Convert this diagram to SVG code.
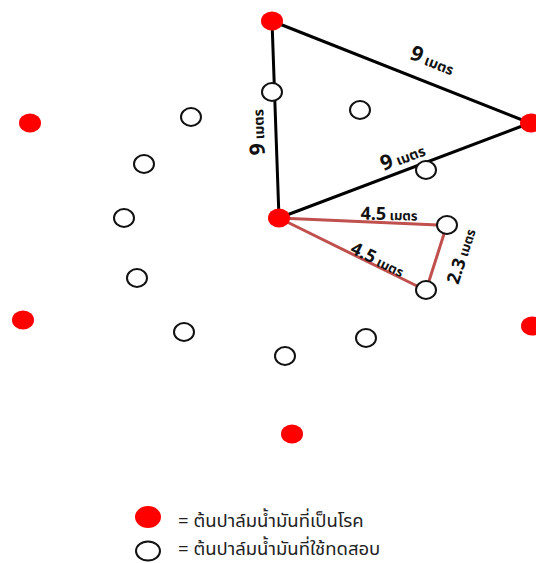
<svg xmlns="http://www.w3.org/2000/svg" width="536" height="563" viewBox="0 0 536 563">
<style>
.red{fill:#ff0000;stroke:none}
.test{fill:#ffffff;stroke:#111111;stroke-width:2}
.bl{stroke:#000000;stroke-width:3;fill:none;stroke-linecap:round}
.rl{stroke:#c0504d;stroke-width:3;fill:none;stroke-linecap:round}
.lbl{font-family:"Noto Sans Thai","Noto Sans","DejaVu Sans",sans-serif;font-weight:bold;fill:#111111}
.num{font-size:21px}
.th{font-size:14px}
.num2{font-size:18px}
.th2{font-size:13px}
.leg{font-family:"Noto Sans Thai","Noto Sans","DejaVu Sans",sans-serif;font-size:18.5px;fill:#222222}
</style>
<rect width="536" height="563" fill="#ffffff"/>
<g id="connectors">
<line class="bl" x1="272" y1="21" x2="530" y2="123"/>
<line class="bl" x1="272" y1="21" x2="279" y2="218"/>
<line class="bl" x1="279" y1="218" x2="530" y2="123"/>
<line class="rl" x1="279" y1="218" x2="438" y2="225"/>
<line class="rl" x1="279" y1="218" x2="417" y2="286"/>
<line class="rl" x1="444" y1="234" x2="429" y2="281"/>
</g>
<g id="labels">
<text class="lbl" text-anchor="middle" transform="translate(430,67) rotate(21.6)"><tspan class="num">9</tspan><tspan class="th"> เมตร</tspan></text>
<text class="lbl" text-anchor="middle" transform="translate(264,132) rotate(-92)"><tspan class="num">9</tspan><tspan class="th"> เมตร</tspan></text>
<text class="lbl" text-anchor="middle" transform="translate(405,163) rotate(-20.7)"><tspan class="num">9</tspan><tspan class="th"> เมตร</tspan></text>
<text class="lbl" text-anchor="middle" transform="translate(389,220) rotate(1)"><tspan class="num2">4.5</tspan><tspan class="th2"> เมตร</tspan></text>
<text class="lbl" text-anchor="middle" transform="translate(375,265) rotate(26)"><tspan class="num2">4.5</tspan><tspan class="th2"> เมตร</tspan></text>
<text class="lbl" text-anchor="middle" transform="translate(467,258) rotate(-72)"><tspan class="num2">2.3</tspan><tspan class="th2"> เมตร</tspan></text>
</g>
<g id="diseased">
<ellipse id="d1" class="red" cx="272" cy="21" rx="11" ry="9.5"/>
<ellipse id="d2" class="red" cx="531" cy="123" rx="11" ry="9.5"/>
<ellipse id="d3" class="red" cx="279" cy="218" rx="11" ry="9.5"/>
<ellipse id="d4" class="red" cx="30" cy="123" rx="11" ry="9.5"/>
<ellipse id="d5" class="red" cx="23" cy="320" rx="11" ry="9.5"/>
<ellipse id="d6" class="red" cx="532" cy="326" rx="11" ry="9.5"/>
<ellipse id="d7" class="red" cx="292" cy="434" rx="11" ry="9.5"/>
</g>
<g id="tested">
<ellipse id="t1" class="test" cx="272" cy="92" rx="10" ry="9"/>
<ellipse id="t2" class="test" cx="360" cy="110" rx="10" ry="9"/>
<ellipse id="t3" class="test" cx="426" cy="170" rx="10" ry="9"/>
<ellipse id="t4" class="test" cx="447" cy="225" rx="10" ry="9"/>
<ellipse id="t5" class="test" cx="426" cy="290" rx="10" ry="9"/>
<ellipse id="t6" class="test" cx="191" cy="117" rx="10" ry="9"/>
<ellipse id="t7" class="test" cx="144" cy="164" rx="10" ry="9"/>
<ellipse id="t8" class="test" cx="124" cy="218" rx="10" ry="9"/>
<ellipse id="t9" class="test" cx="137" cy="278" rx="10" ry="9"/>
<ellipse id="t10" class="test" cx="184" cy="332" rx="10" ry="9"/>
<ellipse id="t11" class="test" cx="285" cy="356" rx="10" ry="9"/>
<ellipse id="t12" class="test" cx="366" cy="338" rx="10" ry="9"/>
</g>
<g id="legend">
<ellipse class="red" cx="148" cy="517" rx="13" ry="11"/>
<text class="leg" x="178" y="527">= ต้นปาล์มน้ำมันที่เป็นโรค</text>
<ellipse class="test" cx="148" cy="551" rx="12" ry="9.5"/>
<text class="leg" x="178" y="555">= ต้นปาล์มน้ำมันที่ใช้ทดสอบ</text>
</g>
</svg>
